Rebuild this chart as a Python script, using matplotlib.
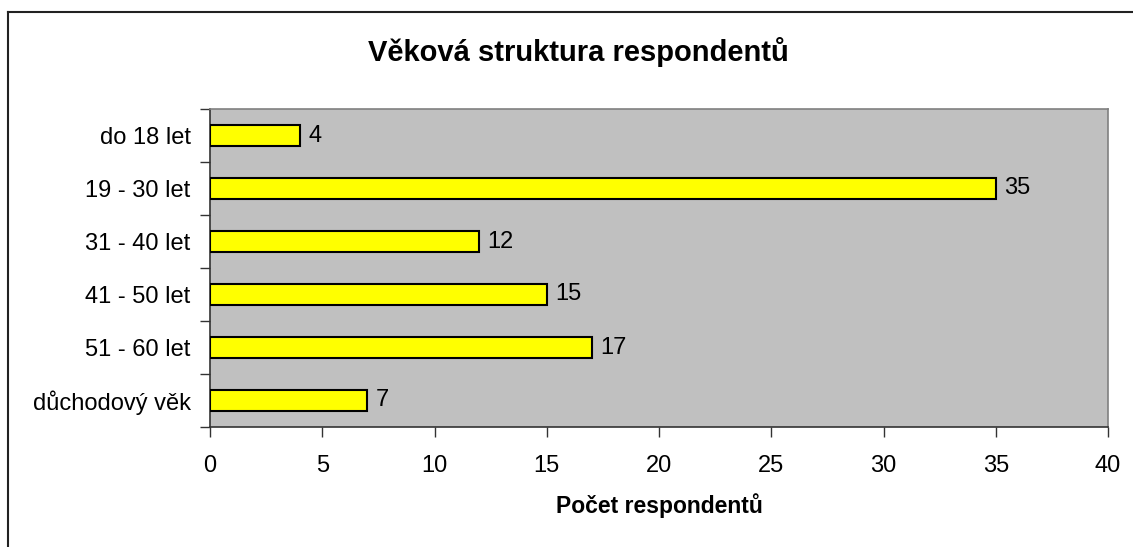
import matplotlib.pyplot as plt
from matplotlib.lines import Line2D

categories = ["do 18 let", "19 - 30 let", "31 - 40 let", "41 - 50 let",
              "51 - 60 let", "důchodový věk"]
values = [4, 35, 12, 15, 17, 7]
x_ticks = [0, 5, 10, 15, 20, 25, 30, 35, 40]

plt.rcParams['font.family'] = ['Liberation Sans', 'DejaVu Sans']

fig = plt.figure(figsize=(11.33, 5.47), dpi=100)
ax = fig.add_axes([210 / 1133, 1 - 427 / 547, 898 / 1133, 318 / 547])
ax.set_facecolor('#C0C0C0')

pos = list(range(len(categories)))
bars = ax.barh(pos, values, height=0.4, color='#FFFF00', edgecolor='black',
               linewidth=1.5, zorder=3)
for b, v in zip(bars, values):
    ax.annotate(str(v), (b.get_width(), b.get_y() + b.get_height() / 2),
                xytext=(6, 0), textcoords='offset points', va='center',
                ha='left', fontsize=17)

ax.set_xlim(0, 40)
ax.set_ylim(len(categories) - 0.5, -0.5)
ax.set_xticks(x_ticks)
ax.set_xticklabels([str(t) for t in x_ticks], fontsize=17)
ax.set_yticks([p - 0.5 for p in range(len(categories) + 1)])
ax.set_yticklabels([])
ax.set_yticks(pos, minor=True)
ax.set_yticklabels(categories, minor=True, fontsize=17)
ax.tick_params(axis='y', which='minor', length=0, pad=14)
ax.tick_params(axis='y', which='major', length=7, width=1, color='#333333')
ax.tick_params(axis='x', length=7, width=1, color='#333333', pad=13)

for s in ['left', 'bottom']:
    ax.spines[s].set_color('#333333')
    ax.spines[s].set_linewidth(1.2)
for s in ['top', 'right']:
    ax.spines[s].set_color('#808080')
    ax.spines[s].set_linewidth(1.2)

ax.set_xlabel("Počet respondentů", fontsize=16.5, fontweight='bold', labelpad=12)
fig.text(578 / 1133, 1 - 52 / 547, "Věková struktura respondentů",
         ha='center', va='center', fontsize=21, fontweight='bold')

# outer chart frame (top and left edges visible)
fig.add_artist(Line2D([8 / 1133, 8 / 1133], [0, 1 - 12 / 547],
                      transform=fig.transFigure, color='#222222', lw=1.5))
fig.add_artist(Line2D([8 / 1133, 1], [1 - 12 / 547, 1 - 12 / 547],
                      transform=fig.transFigure, color='#222222', lw=1.5))

fig.savefig('out.png', dpi=100)
